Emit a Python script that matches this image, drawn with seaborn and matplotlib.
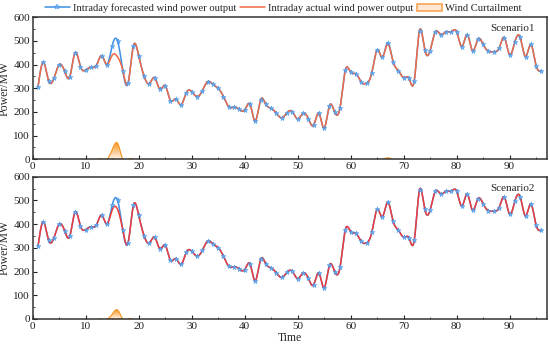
import numpy as np
import matplotlib
matplotlib.use('Agg')
import matplotlib.pyplot as plt
import seaborn as sns
from matplotlib.lines import Line2D
from matplotlib.patches import Patch
from matplotlib.path import Path
from matplotlib.colors import LinearSegmentedColormap
from matplotlib.ticker import MultipleLocator

# Data
time = np.arange(1, 97)
forecast = np.array([307, 410, 332, 342, 400, 373, 349, 451, 392, 377,
                     389, 396, 438, 400, 480, 501, 375, 322, 479, 437,
                     352, 320, 345, 296, 311, 248, 255, 230, 282, 286,
                     265, 289, 328, 317, 300, 265, 222, 220, 211, 208,
                     232, 161, 251, 232, 215, 194, 175, 197, 201, 170,
                     194, 172, 144, 194, 131, 227, 199, 218, 377, 368,
                     361, 327, 321, 366, 462, 431, 493, 413, 375, 345,
                     342, 331, 544, 462, 459, 539, 527, 539, 539, 539,
                     476, 527, 458, 507, 486, 456, 455, 469, 514, 442,
                     497, 515, 434, 485, 396, 375], dtype=float)
# curtailment = forecast - actual, non-zero only at a few time points
curtail_t1 = [15, 16, 67]
curtail_v1 = [40, 68, 6]
curtail_t2 = [15, 16]
curtail_v2 = [20, 38]
scenarios = ['Scenario1', 'Scenario2']
actual_colors = ['#ef6a45', '#f03a3a']

blue = '#3d8fe3'
marker_blue = '#69aef0'
orange = '#f7941d'


def spline(x, y, xs):
    # natural cubic spline on a unit-spaced grid
    n = len(x)
    A = np.zeros((n, n))
    b = np.zeros(n)
    A[0, 0] = A[-1, -1] = 1
    for i in range(1, n - 1):
        A[i, i - 1], A[i, i], A[i, i + 1] = 1, 4, 1
        b[i] = 6 * (y[i + 1] - 2 * y[i] + y[i - 1])
    M = np.linalg.solve(A, b)
    idx = np.clip(np.floor(xs - x[0]).astype(int), 0, n - 2)
    t = xs - x[idx]
    return (M[idx] * (1 - t) ** 3 / 6 + M[idx + 1] * t ** 3 / 6
            + (y[idx] - M[idx] / 6) * (1 - t) + (y[idx + 1] - M[idx + 1] / 6) * t)


sns.set_style("ticks")
plt.rcParams['font.family'] = ['Liberation Serif', 'DejaVu Serif']
plt.rcParams['font.size'] = 8

fig = plt.figure(figsize=(5.5, 3.5), dpi=100)
ax1 = fig.add_axes([0.0595, 0.545, 0.9345, 0.4056])
ax2 = fig.add_axes([0.0595, 0.0886, 0.9345, 0.4066])

xs = np.linspace(1, 96, 2000)
grad_cmap = LinearSegmentedColormap.from_list('g', ['#fff4ea', orange])

for ax, name, col, ct, cv in zip([ax1, ax2], scenarios, actual_colors,
                                 [curtail_t1, curtail_t2], [curtail_v1, curtail_v2]):
    curtail = np.zeros(len(time))
    curtail[np.array(ct) - 1] = cv
    actual = forecast - curtail

    f_s = spline(time, forecast, xs)
    a_s = spline(time, actual, xs)
    c_s = np.clip(f_s - a_s, 0, None)

    # wind curtailment area with gradient
    poly = ax.fill_between(xs, 0, c_s, where=c_s > 0.3, facecolor='none',
                           edgecolor=orange, lw=0.8, zorder=2)
    clip = Path.make_compound_path(*poly.get_paths())
    img = ax.imshow(np.linspace(0, 1, 100).reshape(-1, 1), cmap=grad_cmap,
                    extent=[0, 97, 0, c_s.max()], aspect='auto', origin='lower', zorder=1)
    img.set_clip_path(clip, transform=ax.transData)

    sns.lineplot(x=xs, y=f_s, ax=ax, color=blue, lw=1.1, zorder=3)
    sns.lineplot(x=xs, y=a_s, ax=ax, color=col, lw=1.1, zorder=4)
    sns.scatterplot(x=time, y=forecast, ax=ax, marker='*', s=14, color=marker_blue,
                    edgecolor=blue, linewidth=0.3, zorder=5)

    ax.set_xlim(0, 97)
    ax.set_ylim(0, 600)
    ax.xaxis.set_major_locator(MultipleLocator(10))
    ax.xaxis.set_minor_locator(MultipleLocator(5))
    ax.yaxis.set_major_locator(MultipleLocator(100))
    ax.yaxis.set_minor_locator(MultipleLocator(50))
    ax.tick_params(which='both', direction='in', labelsize=8, pad=2, colors='#222222')
    ax.tick_params(which='major', length=3, width=0.8)
    ax.tick_params(which='minor', length=1.5, width=0.6)
    for s in ax.spines.values():
        s.set_linewidth(1.1)
        s.set_color('#333333')
    ax.set_ylabel('Power/MW', labelpad=2, fontsize=8.5)
    ax.set_xlabel('')
    ax.text(0.976, 0.92, name, transform=ax.transAxes, ha='right', va='center', fontsize=8)

ax2.set_xlabel('Time', labelpad=1, fontsize=8.5)

handles = [
    Line2D([], [], color=blue, lw=1.1, marker='*', ms=4, markerfacecolor=marker_blue,
           markeredgecolor=blue, markeredgewidth=0.3),
    Line2D([], [], color=actual_colors[0], lw=1.1),
    Patch(facecolor='#fde6d2', edgecolor='#f7a356', lw=1.2),
]
labels = ['Intraday forecasted wind power output', 'Intraday actual wind power output',
          'Wind Curtailment']
fig.legend(handles, labels, loc='center', bbox_to_anchor=(0.515, 0.977), ncol=3,
           frameon=False, fontsize=7.6, columnspacing=0.3, handletextpad=0.3,
           handlelength=2.4, borderpad=0)

fig.savefig('out.png', dpi=100)
